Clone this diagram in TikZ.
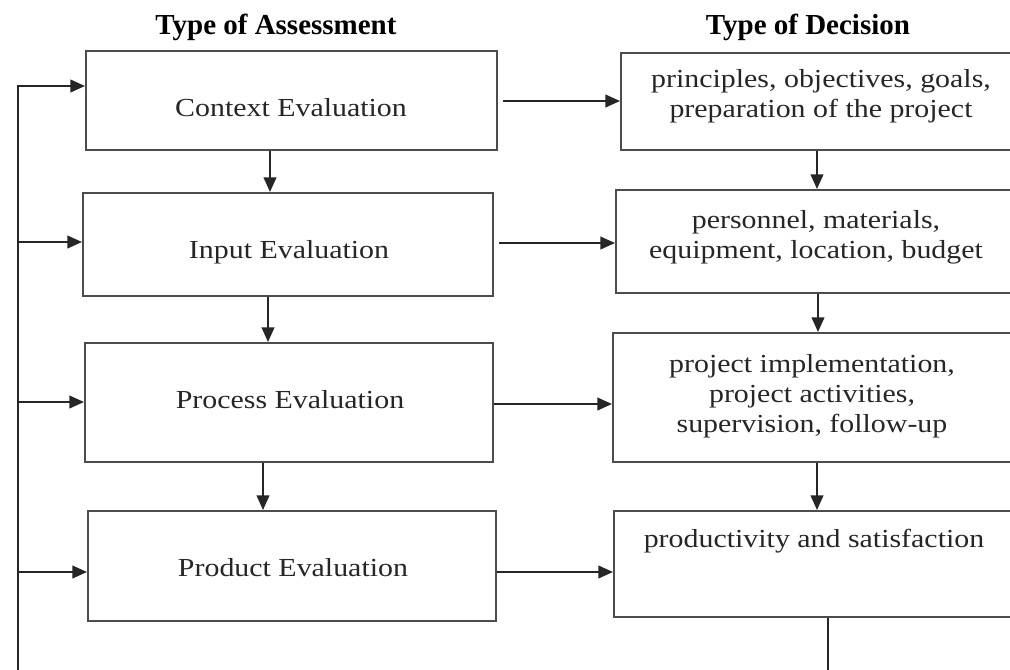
\documentclass[tikz,border=0pt]{standalone}
\usepackage{fontspec}
\setmainfont{Liberation Serif}
\newfontfamily\bodyfont[FakeStretch=1.15]{Liberation Serif}
\usetikzlibrary{arrows.meta,fit}
\begin{document}
\begin{tikzpicture}[x=0.75pt,y=-0.75pt,
 box/.style={draw=black!70, line width=1.5pt, inner sep=0pt},
 lbl/.style={font=\bodyfont\fontsize{19.5}{22.5}\selectfont, align=center, inner sep=0pt, text=black!85},
 hdr/.style={font=\bfseries\fontsize{21.75}{26}\selectfont, inner sep=0pt},
 arr/.style={draw=black!85, line width=1.5pt, -{Triangle[length=11pt,width=9.5pt]}},
 ln/.style={draw=black!85, line width=1.5pt}]
\clip (0,0) rectangle (1010,669);
\fill[white] (0,0) rectangle (1010,669);

% headers
\node[hdr] (h1) at (276,27) {Type of Assessment};
\node[hdr] (h2) at (808,27) {Type of Decision};

% left boxes
\node[box, fit={(86,51)(497,150)}] (c) {};
\node[box, fit={(83,193)(493,296)}] (i) {};
\node[box, fit={(85,343)(493,462)}] (p) {};
\node[box, fit={(88,511)(496,621)}] (r) {};
\node[lbl] (ct) at (291,108) {Context Evaluation};
\node[lbl] (it) at (289,252) {Input Evaluation};
\node[lbl] (pt) at (290,400) {Process Evaluation};
\node[lbl] (rt) at (293,568) {Product Evaluation};

% right boxes
\node[box, fit={(621,53)(1030,150)}] (d1) {};
\node[box, fit={(616,190)(1030,293)}] (d2) {};
\node[box, fit={(613,333)(1030,462)}] (d3) {};
\node[box, fit={(614,511)(1030,617)}] (d4) {};
\node[lbl] (t1) at (821,96) {principles, objectives, goals,\\preparation of the project};
\node[lbl] (t2) at (816,237) {personnel, materials,\\equipment, location, budget};
\node[lbl] (t3) at (812,396) {project implementation,\\project activities,\\supervision, follow-up};
\node[lbl] (t4) at (814,541) {productivity and satisfaction};

% helper coordinates
\coordinate (xa) at (270,0);
\coordinate (xb) at (268,0);
\coordinate (xc) at (263,0);
\coordinate (xd) at (817,0);
\coordinate (xe) at (818,0);
\coordinate (xf) at (828,0);
\coordinate (xl) at (18,0);
\coordinate (bl) at (18,700);
\coordinate (yc) at (0,86);
\coordinate (yi) at (0,242);
\coordinate (yp) at (0,402);
\coordinate (yr) at (0,572);
\coordinate (y1) at (0,101);
\coordinate (y2) at (0,243);
\coordinate (y3) at (0,404);
\coordinate (y4) at (0,572);

% vertical arrows, left column
\draw[arr] (c.south -| xa) -- (i.north -| xa);
\draw[arr] (i.south -| xb) -- (p.north -| xb);
\draw[arr] (p.south -| xc) -- (r.north -| xc);

% vertical arrows, right column
\draw[arr] (d1.south -| xd) -- (d2.north -| xd);
\draw[arr] (d2.south -| xe) -- (d3.north -| xe);
\draw[arr] (d3.south -| xd) -- (d4.north -| xd);

% horizontal arrows
\draw[arr, shorten <=3.75pt] (c.east |- y1) -- (d1.west |- y1);
\draw[arr, shorten <=3.75pt] (i.east |- y2) -- (d2.west |- y2);
\draw[arr] (p.east |- y3) -- (d3.west |- y3);
\draw[arr] (r.east |- y4) -- (d4.west |- y4);

% feedback loop
\draw[arr] (d4.south -| xf) |- (bl) |- (c.west |- yc);
\draw[arr] (xl |- yi) -- (i.west |- yi);
\draw[arr] (xl |- yp) -- (p.west |- yp);
\draw[arr] (xl |- yr) -- (r.west |- yr);
\end{tikzpicture}
\end{document}
